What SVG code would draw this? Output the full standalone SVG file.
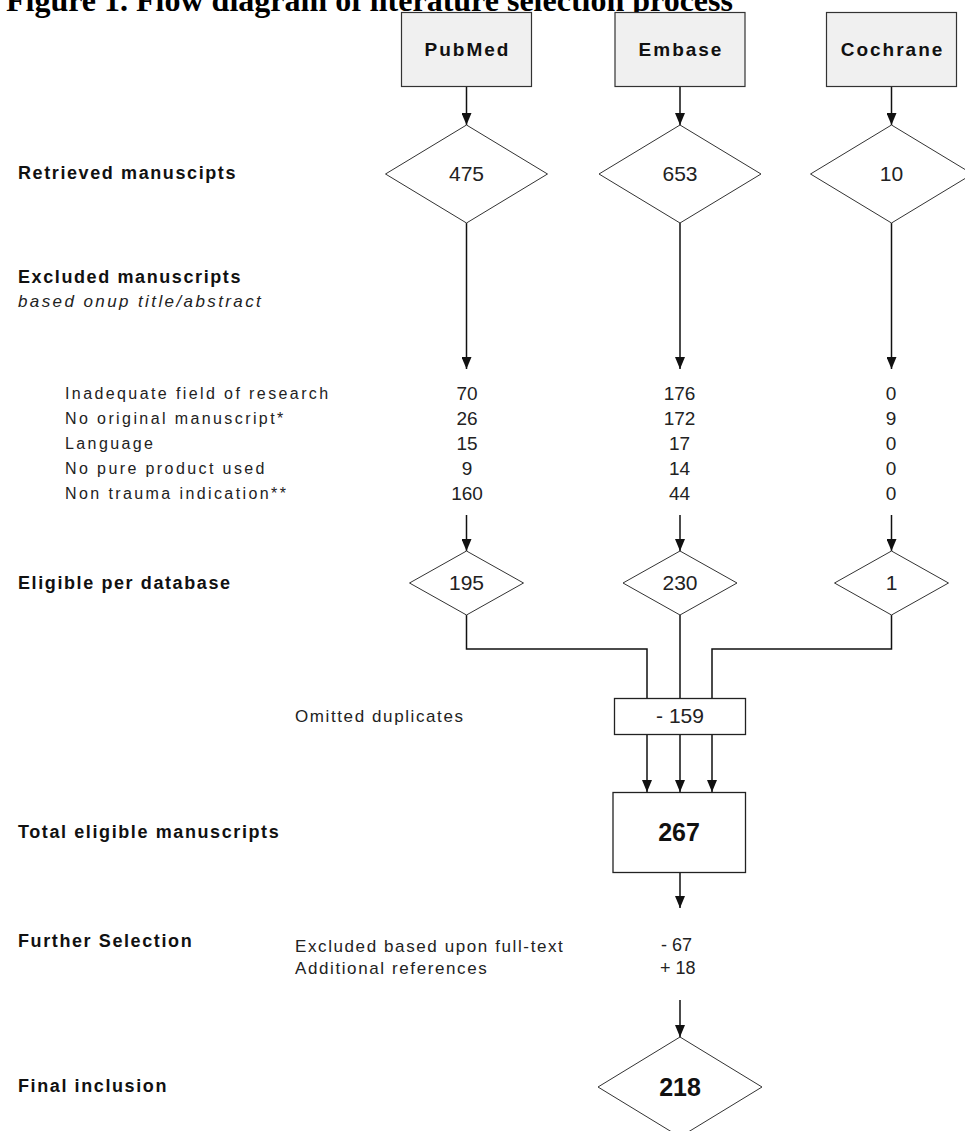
<svg xmlns="http://www.w3.org/2000/svg" width="965" height="1131" viewBox="0 0 965 1131">
<defs>
<style>
.title{font-family:"Liberation Serif",serif;font-weight:bold;font-size:32px;fill:#000}
.src{font-family:"Liberation Sans",Arial,sans-serif;font-weight:bold;font-size:19px;letter-spacing:2px;fill:#111;text-anchor:middle}
.lbl{font-family:"Liberation Sans",Arial,sans-serif;font-weight:bold;font-size:18px;letter-spacing:1.6px;fill:#111}
.ital{font-family:"Liberation Sans",Arial,sans-serif;font-style:italic;font-size:17px;letter-spacing:2.4px;fill:#222}
.txt{font-family:"Liberation Sans",Arial,sans-serif;font-size:17px;letter-spacing:1.6px;fill:#222}
.tab{font-family:"Liberation Sans",Arial,sans-serif;font-size:16px;letter-spacing:2.4px;fill:#222}
.num{font-family:"Liberation Sans",Arial,sans-serif;font-size:21px;fill:#222;text-anchor:middle}
.tnum{font-family:"Liberation Sans",Arial,sans-serif;font-size:19px;fill:#222;text-anchor:middle}
.snum{font-family:"Liberation Sans",Arial,sans-serif;font-size:18px;fill:#222}
.big{font-family:"Liberation Sans",Arial,sans-serif;font-weight:bold;font-size:25px;fill:#111;text-anchor:middle}
.box{fill:#f0f0f0;stroke:#333;stroke-width:1.2}
.wbox{fill:#fff;stroke:#222;stroke-width:1.3}
.dia{fill:#fff;stroke:#333;stroke-width:1}
.con{fill:none;stroke:#111;stroke-width:1.5}
.arr{fill:none;stroke:#111;stroke-width:1.5;marker-end:url(#ah)}
</style>
<marker id="ah" viewBox="0 0 12 10" refX="12" refY="5" markerWidth="12" markerHeight="10" markerUnits="userSpaceOnUse" orient="auto">
<path d="M0,0 L12,5 L0,10 z" fill="#111"/>
</marker>
</defs>
<rect x="0" y="0" width="965" height="1131" fill="#fff"/>
<text class="title" x="6" y="11">Figure 1. Flow diagram of literature selection process</text>

<g id="connectors">
<line class="arr" x1="466.5" y1="86" x2="466.5" y2="125"/>
<line class="arr" x1="680" y1="86" x2="680" y2="125"/>
<line class="arr" x1="891.5" y1="86" x2="891.5" y2="125"/>
<line class="arr" x1="466.5" y1="223" x2="466.5" y2="369"/>
<line class="arr" x1="680" y1="223" x2="680" y2="369"/>
<line class="arr" x1="891.5" y1="223" x2="891.5" y2="369"/>
<line class="arr" x1="466.5" y1="515" x2="466.5" y2="551"/>
<line class="arr" x1="680" y1="515" x2="680" y2="551"/>
<line class="arr" x1="891.5" y1="515" x2="891.5" y2="551"/>
<polyline class="con" points="466.5,615 466.5,649 647,649 647,698"/>
<line class="con" x1="680" y1="615" x2="680" y2="698"/>
<polyline class="con" points="891.5,615 891.5,649 712,649 712,698"/>
<line class="arr" x1="647" y1="734" x2="647" y2="792"/>
<line class="arr" x1="680" y1="734" x2="680" y2="792"/>
<line class="arr" x1="712" y1="734" x2="712" y2="792"/>
<line class="arr" x1="680" y1="872" x2="680" y2="908"/>
<line class="arr" x1="680" y1="1000" x2="680" y2="1037"/>
</g>

<g id="pubmed"><rect class="box" x="401.5" y="12.5" width="130" height="74"/><text class="src" x="467.5" y="56">PubMed</text></g>
<g id="embase"><rect class="box" x="615" y="12.5" width="130" height="74"/><text class="src" x="681" y="56">Embase</text></g>
<g id="cochrane"><rect class="box" x="826.5" y="12.5" width="130" height="74"/><text class="src" x="892.5" y="56">Cochrane</text></g>

<g id="ret-pubmed"><polygon class="dia" points="466.5,125 547.5,174 466.5,223 385.5,174"/><text class="num" x="466.5" y="181">475</text></g>
<g id="ret-embase"><polygon class="dia" points="680,125 761,174 680,223 599,174"/><text class="num" x="680" y="181">653</text></g>
<g id="ret-cochrane"><polygon class="dia" points="891.5,125 972.5,174 891.5,223 810.5,174"/><text class="num" x="891.5" y="181">10</text></g>

<g id="excl-table">
<text class="tab" x="65" y="399">Inadequate field of research</text>
<text class="tab" x="65" y="424">No original manuscript*</text>
<text class="tab" x="65" y="449">Language</text>
<text class="tab" x="65" y="474">No pure product used</text>
<text class="tab" x="65" y="499">Non trauma indication**</text>
<text class="tnum" x="467" y="400">70</text>
<text class="tnum" x="467" y="425">26</text>
<text class="tnum" x="467" y="450">15</text>
<text class="tnum" x="467" y="475">9</text>
<text class="tnum" x="467" y="500">160</text>
<text class="tnum" x="679.5" y="400">176</text>
<text class="tnum" x="679.5" y="425">172</text>
<text class="tnum" x="679.5" y="450">17</text>
<text class="tnum" x="679.5" y="475">14</text>
<text class="tnum" x="679.5" y="500">44</text>
<text class="tnum" x="891" y="400">0</text>
<text class="tnum" x="891" y="425">9</text>
<text class="tnum" x="891" y="450">0</text>
<text class="tnum" x="891" y="475">0</text>
<text class="tnum" x="891" y="500">0</text>
</g>

<g id="elig-pubmed"><polygon class="dia" points="466.5,551 523.5,583 466.5,615 409.5,583"/><text class="num" x="466.5" y="590">195</text></g>
<g id="elig-embase"><polygon class="dia" points="680,551 737,583 680,615 623,583"/><text class="num" x="680" y="590">230</text></g>
<g id="elig-cochrane"><polygon class="dia" points="891.5,551 948.5,583 891.5,615 834.5,583"/><text class="num" x="891.5" y="590">1</text></g>

<g id="duplicates"><rect class="wbox" x="614.5" y="698.5" width="131" height="36"/><text class="num" x="680" y="723">- 159</text></g>
<g id="total"><rect class="wbox" x="613" y="792.5" width="132.5" height="80"/><text class="big" x="679" y="841">267</text></g>
<g id="further"><text class="snum" x="661" y="951">- 67</text><text class="snum" x="660" y="974">+ 18</text></g>
<g id="final"><polygon class="dia" points="680,1037 762,1087 680,1137 598,1087"/><text class="big" x="680" y="1096">218</text></g>

<g id="labels">
<text class="lbl" x="18" y="179">Retrieved manuscipts</text>
<text class="lbl" x="18" y="283">Excluded manuscripts</text>
<text class="ital" x="18" y="307">based onup title/abstract</text>
<text class="lbl" x="18" y="589">Eligible per database</text>
<text class="txt" x="295" y="722">Omitted duplicates</text>
<text class="lbl" x="18" y="838">Total eligible manuscripts</text>
<text class="lbl" x="18" y="947">Further Selection</text>
<text class="txt" x="295" y="952">Excluded based upon full-text</text>
<text class="txt" x="295" y="974">Additional references</text>
<text class="lbl" x="18" y="1092">Final inclusion</text>
</g>
</svg>
